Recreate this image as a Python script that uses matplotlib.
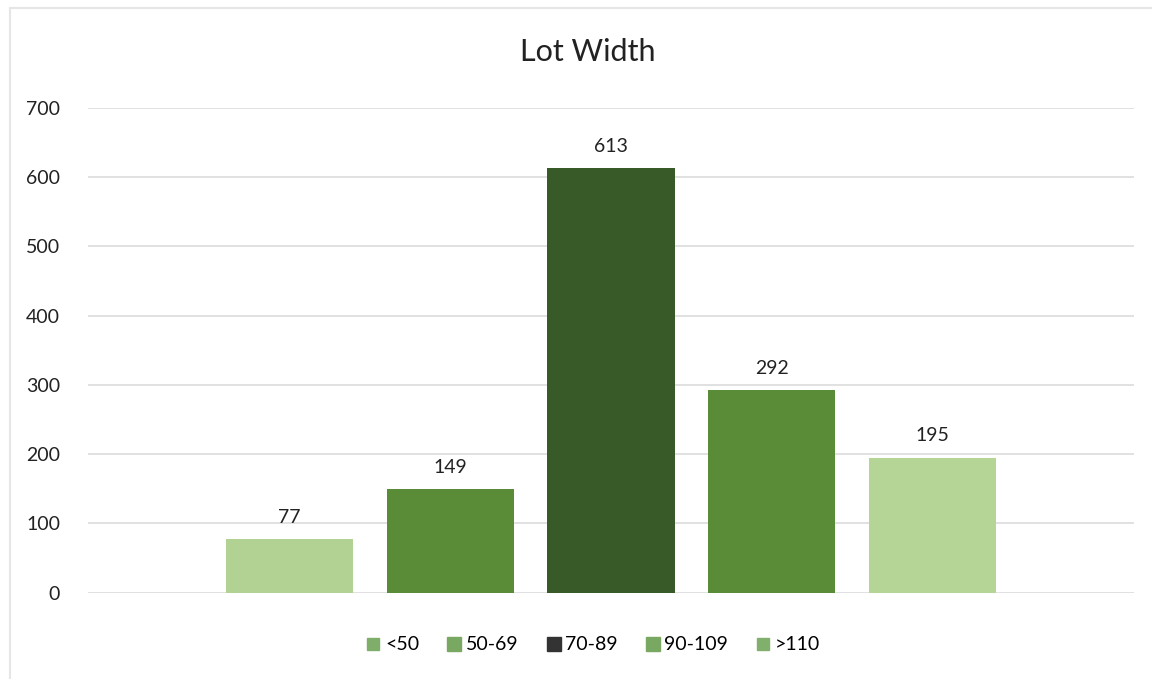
import matplotlib.pyplot as plt
from matplotlib.lines import Line2D

plt.rcParams['font.family'] = ['Lato', 'DejaVu Sans']

categories = ["<50", "50-69", "70-89", "90-109", ">110"]
counts = [77, 149, 613, 292, 195]
bar_colors = ["#b2d293", "#5a8b36", "#375a28", "#5a8b36", "#b5d597"]
legend_colors = ["#7fae6a", "#78a862", "#333333", "#78a862", "#80b06c"]
yticks = [0, 100, 200, 300, 400, 500, 600, 700]

fig = plt.figure(figsize=(11.52, 6.79), dpi=100)
ax = fig.add_axes([88 / 1152, 1 - 592.5 / 679, (1134 - 88) / 1152, (592.5 - 108) / 679])

x = list(range(len(categories)))
bars = ax.bar(x, counts, width=0.79, color=bar_colors, zorder=2)

for xi, v in zip(x, counts):
    ax.text(xi, v + 19, str(v), ha="center", va="bottom", fontsize=14, color="#222222")

ax.set_xlim(-1.25, 5.25)
ax.set_ylim(0, 700)
ax.set_yticks(yticks)
ax.set_xticks([])
ax.grid(axis="y", color="#dcdcdc", linewidth=1.2, zorder=0)
for s in ax.spines.values():
    s.set_visible(False)
ax.tick_params(axis="y", length=0, labelsize=14, labelcolor="#222222", pad=20)

fig.text(588 / 1152, 1 - 52 / 679, "Lot Width", ha="center", va="center",
         fontsize=22, color="#222222")

# legend with small square markers
handles = []
for c, lab in zip(legend_colors, categories):
    ms = 8 if lab in ("<50", ">110") else 10
    handles.append(Line2D([], [], marker="s", linestyle="none", markersize=ms,
                          markerfacecolor=c, markeredgecolor=c, label=lab))
fig.legend(handles=handles, loc="center", bbox_to_anchor=(592 / 1152, 1 - 645 / 679),
           ncol=5, frameon=False, fontsize=14, handletextpad=0.1, columnspacing=1.3,
           handlelength=1.0)

# light frame: only top and left edges visible in the scan
fig.add_artist(Line2D([10 / 1152, 10 / 1152], [0, 1 - 8 / 679], transform=fig.transFigure,
                      color="#e6e6e6", linewidth=1.5))
fig.add_artist(Line2D([10 / 1152, 1], [1 - 8 / 679, 1 - 8 / 679], transform=fig.transFigure,
                      color="#e6e6e6", linewidth=1.5))

fig.savefig("out.png", dpi=100)
